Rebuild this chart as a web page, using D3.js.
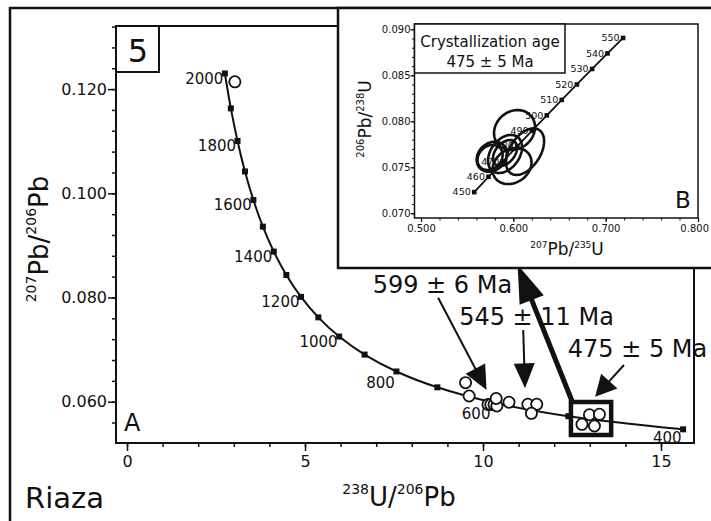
<!DOCTYPE html>
<html><head><meta charset="utf-8">
<script src="https://cdn.jsdelivr.net/npm/d3@7/dist/d3.min.js"></script>
<style>body{margin:0;background:#fff} svg text{font-family:"DejaVu Sans",Verdana,sans-serif;fill:#111}</style>
</head><body><svg id="c" width="711" height="521"></svg>
<script>
// ---------- DATA ----------
// Tera-Wasserburg concordia (main plot, panel A)
const concordiaAges      = [400, 500, 600, 700, 800, 900, 1000, 1100, 1200, 1300, 1400, 1500, 1600, 1700, 1800, 1900, 2000];
const concordiaU238Pb206 = [15.621, 12.399, 10.252, 8.718, 7.568, 6.674, 5.959, 5.375, 4.888, 4.476, 4.123, 3.817, 3.550, 3.314, 3.105, 2.917, 2.749];
const concordiaPb207Pb206= [0.05470, 0.05722, 0.05990, 0.06276, 0.06580, 0.06904, 0.07250, 0.07619, 0.08012, 0.08432, 0.08881, 0.09360, 0.09872, 0.10419, 0.11004, 0.11630, 0.12300];
const concordiaLabelAges = [2000, 1800, 1600, 1400, 1200, 1000, 800, 600, 400];
// zircon analyses (open circles)
const zirconU238Pb206  = [3.03, 9.51, 9.61, 10.14, 10.22, 10.31, 10.39, 10.37, 10.73, 11.26, 11.51, 11.36, 12.78, 12.99, 13.27, 13.13];
const zirconPb207Pb206 = [0.1214, 0.06365, 0.06109, 0.05946, 0.05946, 0.05946, 0.05917, 0.06061, 0.05989, 0.0595, 0.0595, 0.05777, 0.05566, 0.0575, 0.05758, 0.05534];
const mainXTicks = [0, 5, 10, 15];
const mainYTicks = [0.060, 0.080, 0.100, 0.120];
const ageAnnotations = ["599 \u00B1 6 Ma", "545 \u00B1 11 Ma", "475 \u00B1 5 Ma"];
// Wetherill concordia (inset, panel B)
const insetAges     = [450, 460, 470, 480, 490, 500, 510, 520, 530, 540, 550];
const insetPb207U235= [0.55766, 0.57307, 0.58864, 0.60437, 0.62024, 0.63628, 0.65247, 0.66883, 0.68535, 0.70202, 0.71887];
const insetPb206U238= [0.07230, 0.07397, 0.07563, 0.07730, 0.07898, 0.08065, 0.08233, 0.08401, 0.08569, 0.08738, 0.08906];
// error ellipses: centre, half-widths and correlation
const ellPb207U235 = [0.6013, 0.6127, 0.5986, 0.5766, 0.5748, 0.5910, 0.5910];
const ellSx        = [0.0222, 0.0206, 0.0211, 0.0163, 0.0136, 0.0184, 0.0130];
const ellPb206U238 = [0.07905, 0.07670, 0.07514, 0.07615, 0.07607, 0.07645, 0.07655];
const ellSy        = [0.00217, 0.00253, 0.00196, 0.00163, 0.00136, 0.00207, 0.00141];
const ellRho       = [0.15, 0.45, 0.2, 0.2, 0.2, 0.35, 0.4];
const insetXTicks = [0.500, 0.600, 0.700, 0.800];
const insetYTicks = [0.070, 0.075, 0.080, 0.085, 0.090];
const crystallizationText = ["Crystallization age", "475 \u00B1 5 Ma"];

// ---------- DRAW ----------
const svg = d3.select("#c");
const K = "#111";

function richText(g, parts, mainSize, supSize, shift) {
  const t = g.append("text");
  let raised = false;
  parts.forEach(([s, sup]) => {
    const ts = t.append("tspan").text(s).attr("font-size", sup ? supSize : mainSize);
    if (sup && !raised) { ts.attr("dy", -shift); raised = true; }
    else if (!sup && raised) { ts.attr("dy", shift); raised = false; }
  });
  return t;
}
function arrow(g, x1, y1, x2, y2, lw, L, W) {
  const dx = x2 - x1, dy = y2 - y1, len = Math.hypot(dx, dy);
  const ux = dx / len, uy = dy / len;
  const bx = x2 - ux * L, by = y2 - uy * L;
  g.append("line").attr("x1", x1).attr("y1", y1).attr("x2", bx + ux * 2).attr("y2", by + uy * 2)
    .attr("stroke", K).attr("stroke-width", lw);
  g.append("path").attr("d", `M${x2},${y2}L${bx - uy * W},${by + ux * W}L${bx + uy * W},${by - ux * W}Z`).attr("fill", K);
}

// outer frame
svg.append("rect").attr("x", 10).attr("y", 8).attr("width", 760).attr("height", 560)
  .attr("fill", "none").attr("stroke", K).attr("stroke-width", 2.5);

// main plot
const M = {l: 116, r: 694, t: 26, b: 443};
const x = d3.scaleLinear().domain([-0.309, 15.927]).range([M.l, M.r]);
const y = d3.scaleLinear().domain([0.052073, 0.132111]).range([M.b, M.t]);
const main = svg.append("g");

const xMinor = d3.range(0, 16, 1), yMinor = d3.range(0.056, 0.1321, 0.004);
main.append("g").attr("transform", `translate(0,${M.b})`)
  .call(d3.axisBottom(x).tickValues(xMinor).tickSize(4).tickFormat(""))
  .call(g => { g.select(".domain").remove(); g.selectAll("line").attr("stroke", K).attr("stroke-width", 1.5); });
main.append("g").attr("transform", `translate(0,${M.b})`)
  .call(d3.axisBottom(x).tickValues(mainXTicks).tickSize(8).tickPadding(5).tickFormat(d3.format("d")))
  .call(g => { g.select(".domain").remove(); g.selectAll("line").attr("stroke", K).attr("stroke-width", 1.5);
    g.selectAll("text").attr("font-size", 16).attr("fill", K).style("font-family", "DejaVu Sans"); });
main.append("g").attr("transform", `translate(${M.l},0)`)
  .call(d3.axisLeft(y).tickValues(yMinor).tickSize(4).tickFormat(""))
  .call(g => { g.select(".domain").remove(); g.selectAll("line").attr("stroke", K).attr("stroke-width", 1.5); });
main.append("g").attr("transform", `translate(${M.l},0)`)
  .call(d3.axisLeft(y).tickValues(mainYTicks).tickSize(8).tickPadding(1).tickFormat(d3.format(".3f")))
  .call(g => { g.select(".domain").remove(); g.selectAll("line").attr("stroke", K).attr("stroke-width", 1.5);
    g.selectAll("text").attr("font-size", 16).attr("fill", K).style("font-family", "DejaVu Sans"); });

main.append("rect").attr("x", M.l).attr("y", M.t).attr("width", M.r - M.l).attr("height", M.b - M.t)
  .attr("fill", "none").attr("stroke", K).attr("stroke-width", 2);

// "5" box
main.append("rect").attr("x", M.l).attr("y", M.t).attr("width", 43).attr("height", 46)
  .attr("fill", "#fff").attr("stroke", K).attr("stroke-width", 2);
main.append("text").attr("x", M.l + 22).attr("y", M.t + 36).attr("text-anchor", "middle").attr("font-size", 32).text("5");
main.append("text").attr("x", 124).attr("y", 431).attr("font-size", 24).text("A");
svg.append("text").attr("x", 25).attr("y", 508).attr("font-size", 29).text("Riaza");

// axis titles
richText(svg, [["238", true], ["U/", false], ["206", true], ["Pb", false]], 26, 14, 12)
  .attr("x", 399).attr("y", 506).attr("text-anchor", "middle");
richText(svg.append("g").attr("transform", "translate(48,239) rotate(-90)"),
  [["207", true], ["Pb/", false], ["206", true], ["Pb", false]], 26, 14, 12).attr("text-anchor", "middle");

// concordia
const cData = concordiaAges.map((a, i) => ({a, x: concordiaU238Pb206[i], y: concordiaPb207Pb206[i]}));
main.append("path").datum(cData)
  .attr("d", d3.line().x(d => x(d.x)).y(d => y(d.y)).curve(d3.curveCatmullRom))
  .attr("fill", "none").attr("stroke", K).attr("stroke-width", 2);
main.selectAll("rect.sq").data(cData).join("rect").attr("class", "sq")
  .attr("x", d => x(d.x) - 3).attr("y", d => y(d.y) - 3).attr("width", 6).attr("height", 6).attr("fill", K);
const lblDy = a => a >= 1000 ? 10.5 : (a === 400 ? 14 : 16.5);
main.selectAll("text.cl").data(cData.filter(d => concordiaLabelAges.includes(d.a))).join("text").attr("class", "cl")
  .attr("x", d => x(d.x) - 1.5).attr("y", d => y(d.y) + lblDy(d.a))
  .attr("text-anchor", "end").attr("font-size", 15).text(d => d.a);

// zircon circles
main.selectAll("circle.z").data(zirconU238Pb206.map((v, i) => [v, zirconPb207Pb206[i]])).join("circle").attr("class", "z")
  .attr("cx", d => x(d[0])).attr("cy", d => y(d[1])).attr("r", 5.6)
  .attr("fill", "#fff").attr("stroke", K).attr("stroke-width", 1.8);

// selection box
main.append("rect").attr("x", x(12.47)).attr("y", y(0.05994))
  .attr("width", x(13.60) - x(12.47)).attr("height", y(0.05361) - y(0.05994))
  .attr("fill", "none").attr("stroke", K).attr("stroke-width", 4.5);

// thin arrows and age labels
const ann = svg.append("g");
arrow(ann, x(8.74), y(0.07996), x(10.10), y(0.06225), 2, 24, 11);
arrow(ann, x(11.13), y(0.07376), x(11.18), y(0.06257), 2, 25, 10.5);
arrow(ann, x(13.96), y(0.06704), x(13.15), y(0.06096), 2, 21, 11);
const annPos = [[6.90, 0.08084], [9.33, 0.07472], [12.38, 0.06852]];
ageAnnotations.forEach((s, i) => ann.append("text").attr("x", x(annPos[i][0])).attr("y", y(annPos[i][1]))
  .attr("font-size", 24).text(s));
// thick arrow to inset
arrow(ann, x(12.50), y(0.06013), 517.6, 264.7, 5, 38, 13);

// ---------- inset ----------
const ins = svg.append("g");
ins.append("rect").attr("x", 338).attr("y", 8).attr("width", 400).attr("height", 260)
  .attr("fill", "#fff").attr("stroke", K).attr("stroke-width", 2.5);
const I = {l: 414.5, r: 698, t: 24, b: 218};
const xi = d3.scaleLinear().domain([0.5 - 6.5 / 923, 0.8]).range([I.l, I.r]);
const yi = d3.scaleLinear().domain([0.069489, 0.090576]).range([I.b, I.t]);

ins.append("g").attr("transform", `translate(0,${I.b})`)
  .call(d3.axisBottom(xi).tickValues(d3.range(0.52, 0.8, 0.02)).tickSize(2.5).tickFormat(""))
  .call(g => { g.select(".domain").remove(); g.selectAll("line").attr("stroke", K); });
ins.append("g").attr("transform", `translate(0,${I.b})`)
  .call(d3.axisBottom(xi).tickValues(insetXTicks).tickSize(4).tickPadding(2.5).tickFormat(d3.format(".3f")))
  .call(g => { g.select(".domain").remove(); g.selectAll("line").attr("stroke", K).attr("stroke-width", 1.2);
    g.selectAll("text").attr("font-size", 10).attr("fill", K).style("font-family", "DejaVu Sans");
    g.selectAll("text").filter(d => d >= 0.8).attr("text-anchor", "end").attr("x", 10.5); });
ins.append("g").attr("transform", `translate(${I.l},0)`)
  .call(d3.axisLeft(yi).tickValues(d3.range(0.070, 0.0905, 0.001)).tickSize(2.5).tickFormat(""))
  .call(g => { g.select(".domain").remove(); g.selectAll("line").attr("stroke", K); });
ins.append("g").attr("transform", `translate(${I.l},0)`)
  .call(d3.axisLeft(yi).tickValues(insetYTicks).tickSize(4).tickPadding(0).tickFormat(d3.format(".3f")))
  .call(g => { g.select(".domain").remove(); g.selectAll("line").attr("stroke", K).attr("stroke-width", 1.2);
    g.selectAll("text").attr("font-size", 10).attr("fill", K).style("font-family", "DejaVu Sans"); });
ins.append("rect").attr("x", I.l).attr("y", I.t).attr("width", I.r - I.l).attr("height", I.b - I.t)
  .attr("fill", "none").attr("stroke", K).attr("stroke-width", 1.5);

// inset axis titles
richText(ins, [["207", true], ["Pb/", false], ["235", true], ["U", false]], 17, 9, 7)
  .attr("x", 567).attr("y", 255).attr("text-anchor", "middle");
richText(ins.append("g").attr("transform", "translate(371,119) rotate(-90)"),
  [["206", true], ["Pb/", false], ["238", true], ["U", false]], 17, 10, 7).attr("text-anchor", "middle");

// crystallization box
ins.append("rect").attr("x", I.l).attr("y", I.t).attr("width", 150.5).attr("height", 49)
  .attr("fill", "#fff").attr("stroke", K).attr("stroke-width", 1.5);
crystallizationText.forEach((s, i) => ins.append("text").attr("x", 490).attr("y", 47 + i * 19.5)
  .attr("text-anchor", "middle").attr("font-size", 15).text(s));
ins.append("text").attr("x", 675).attr("y", 208).attr("font-size", 23).text("B");

// inset concordia
const iData = insetAges.map((a, i) => ({a, x: insetPb207U235[i], y: insetPb206U238[i]}));
ins.append("path").datum(iData)
  .attr("d", d3.line().x(d => xi(d.x)).y(d => yi(d.y)).curve(d3.curveCatmullRom))
  .attr("fill", "none").attr("stroke", K).attr("stroke-width", 1.8);
ins.selectAll("rect.isq").data(iData).join("rect").attr("class", "isq")
  .attr("x", d => xi(d.x) - 2.3).attr("y", d => yi(d.y) - 2.3).attr("width", 4.6).attr("height", 4.6).attr("fill", K);
ins.selectAll("text.il").data(iData).join("text").attr("class", "il")
  .attr("x", d => xi(d.x) - 3.5).attr("y", d => yi(d.y)).attr("dy", "0.35em")
  .attr("text-anchor", "end").attr("font-size", 9.5).attr("fill", "#333").text(d => d.a);

// error ellipses
const thetas = d3.range(0, 2 * Math.PI + 0.01, Math.PI / 60);
ellPb207U235.forEach((cx, i) => {
  const pts = thetas.map(t => [
    xi(cx + ellSx[i] * Math.cos(t)),
    yi(ellPb206U238[i] + ellSy[i] * (ellRho[i] * Math.cos(t) + Math.sqrt(1 - ellRho[i] ** 2) * Math.sin(t)))
  ]);
  ins.append("path").attr("d", d3.line().curve(d3.curveLinearClosed)(pts))
    .attr("fill", "none").attr("stroke", K).attr("stroke-width", 2.6);
});
</script></body></html>
